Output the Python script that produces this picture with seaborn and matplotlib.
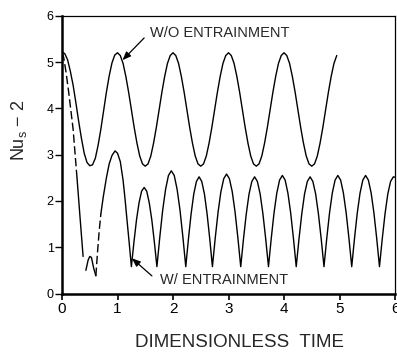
import numpy as np
import pandas as pd
import matplotlib
matplotlib.use("Agg")
import matplotlib.pyplot as plt
import seaborn as sns

# ---- data -------------------------------------------------------------
# Without entrainment: sampled every 0.05 time units from 0 to 4.95
t_wo = np.round(np.arange(0, 100) * 0.05, 2)
nu_wo = [
    5.22, 5.18, 5.05, 4.80, 4.50, 4.12, 3.72, 3.35, 3.03, 2.83,
    2.76, 2.78, 2.92, 3.20, 3.55, 3.95, 4.35, 4.70, 4.98, 5.15,
    5.20, 5.14, 4.97, 4.69, 4.35, 3.97, 3.59, 3.25, 2.97, 2.80,
    2.75, 2.80, 2.97, 3.25, 3.59, 3.97, 4.35, 4.69, 4.97, 5.14,
    5.20, 5.14, 4.97, 4.69, 4.35, 3.97, 3.59, 3.25, 2.97, 2.80,
    2.75, 2.80, 2.97, 3.25, 3.59, 3.97, 4.35, 4.69, 4.97, 5.14,
    5.20, 5.14, 4.97, 4.69, 4.35, 3.97, 3.59, 3.25, 2.97, 2.80,
    2.75, 2.80, 2.97, 3.25, 3.59, 3.97, 4.35, 4.69, 4.97, 5.14,
    5.20, 5.14, 4.97, 4.69, 4.35, 3.97, 3.59, 3.25, 2.97, 2.80,
    2.75, 2.80, 2.97, 3.25, 3.59, 3.97, 4.35, 4.69, 4.97, 5.14,
]

# With entrainment, split into pieces (dashed where the trace is broken)
w_t0 = [0.00, 0.03, 0.07, 0.12, 0.16, 0.20, 0.27]
w_y0 = [5.20, 5.10, 4.80, 4.35, 3.95, 3.55, 2.50]
w_t1 = [0.27, 0.32, 0.38]
w_y1 = [2.50, 1.72, 0.80]
w_t2 = [0.43, 0.47, 0.50, 0.53, 0.57, 0.61]
w_y2 = [0.50, 0.72, 0.80, 0.78, 0.55, 0.38]
w_t3 = [0.61, 0.64, 0.67, 0.70]
w_y3 = [0.38, 0.90, 1.35, 1.72]
w_t4 = [
    0.70, 0.745, 0.80, 0.85, 0.90, 0.955, 1.00, 1.05, 1.10, 1.135, 1.17, 1.21,
    1.25, 1.296, 1.342, 1.388, 1.434, 1.48, 1.526, 1.572, 1.618, 1.664,
    1.71, 1.762, 1.814, 1.866, 1.918, 1.97, 2.022, 2.074, 2.126, 2.178,
    2.23, 2.278, 2.326, 2.374, 2.422, 2.47, 2.518, 2.566, 2.614, 2.662,
    2.71, 2.761, 2.812, 2.863, 2.914, 2.965, 3.016, 3.067, 3.118, 3.169,
    3.22, 3.27, 3.32, 3.37, 3.42, 3.47, 3.52, 3.57, 3.62, 3.67,
    3.72, 3.77, 3.82, 3.87, 3.92, 3.97, 4.02, 4.07, 4.12, 4.17,
    4.22, 4.27, 4.32, 4.37, 4.42, 4.47, 4.52, 4.57, 4.62, 4.67,
    4.72, 4.77, 4.82, 4.87, 4.92, 4.97, 5.02, 5.07, 5.12, 5.17,
    5.22, 5.27, 5.32, 5.37, 5.42, 5.47, 5.52, 5.57, 5.62, 5.67,
    5.72, 5.77, 5.82, 5.87, 5.92, 5.97, 6.00,
]
w_y4 = [
    1.72, 2.10, 2.50, 2.80, 2.98, 3.08, 3.03, 2.85, 2.45, 2.05, 1.60, 1.10,
    0.58, 1.11, 1.59, 1.96, 2.21, 2.29, 2.21, 1.96, 1.59, 1.11,
    0.58, 1.22, 1.80, 2.25, 2.55, 2.65, 2.55, 2.25, 1.80, 1.22,
    0.58, 1.18, 1.72, 2.15, 2.42, 2.52, 2.42, 2.15, 1.72, 1.18,
    0.58, 1.20, 1.76, 2.20, 2.48, 2.58, 2.48, 2.20, 1.76, 1.20,
    0.58, 1.18, 1.72, 2.15, 2.42, 2.52, 2.42, 2.15, 1.72, 1.18,
    0.58, 1.19, 1.74, 2.17, 2.45, 2.55, 2.45, 2.17, 1.74, 1.19,
    0.58, 1.18, 1.72, 2.15, 2.42, 2.52, 2.42, 2.15, 1.72, 1.18,
    0.58, 1.19, 1.74, 2.17, 2.45, 2.55, 2.45, 2.17, 1.74, 1.19,
    0.58, 1.19, 1.74, 2.17, 2.45, 2.55, 2.45, 2.17, 1.74, 1.19,
    0.58, 1.18, 1.72, 2.15, 2.42, 2.52, 2.51,
]

x_ticks = [0, 1, 2, 3, 4, 5, 6]
y_ticks = [0, 1, 2, 3, 4, 5, 6]

# ---- tables -----------------------------------------------------------
df_wo = pd.DataFrame({"time": t_wo, "nu": nu_wo})

pieces = [(w_t0, w_y0, True), (w_t1, w_y1, False), (w_t2, w_y2, False),
          (w_t3, w_y3, True), (w_t4, w_y4, False)]
rows = []
for k, (tt, yy, dashed) in enumerate(pieces):
    for a, b in zip(tt, yy):
        rows.append({"time": a, "nu": b, "piece": k, "dashed": dashed})
df_w = pd.DataFrame(rows)

# ---- figure -----------------------------------------------------------
sns.set_style("ticks")
plt.rcParams["font.family"] = ["Liberation Sans", "DejaVu Sans"]

fig = plt.figure(figsize=(3.97, 3.54), dpi=100)
ax = fig.add_axes([0.1562, 0.1709, 0.8388, 0.7847])

sns.lineplot(data=df_wo, x="time", y="nu", color="black", lw=1.0,
             estimator=None, sort=False, ax=ax, legend=False)
sns.lineplot(data=df_w, x="time", y="nu", units="piece", style="dashed",
             dashes={False: "", True: (6, 2.5)}, color="black", lw=1.0,
             estimator=None, sort=False, ax=ax, legend=False)

ax.set_xlim(0, 6)
ax.set_ylim(0, 6)
ax.set_xticks(x_ticks)
ax.set_yticks(y_ticks)
ax.tick_params(axis="x", direction="out", length=4, width=1.2, pad=2,
               labelsize=11, colors="black")
ax.tick_params(axis="y", direction="out", length=5, width=1.0, pad=1,
               labelsize=9, colors="black")

for side in ("left", "bottom"):
    ax.spines[side].set_linewidth(1.8)
for side in ("top", "right"):
    ax.spines[side].set_linewidth(0.9)
for s in ax.spines.values():
    s.set_color("black")

ax.set_xlabel("DIMENSIONLESS  TIME", fontsize=13.5)
ax.xaxis.set_label_coords(0.532, -0.178)
ax.xaxis.label.set_va("center")
ax.set_ylabel("Nu$_\\mathregular{s}$ − 2", fontsize=13)
ax.yaxis.set_label_coords(-0.13, 0.589)
ax.yaxis.label.set_va("center")

ax.text(1.59, 5.63, "W/O ENTRAINMENT", fontsize=10.5, ha="left", va="center")
ax.annotate("", xy=(1.09, 5.04), xytext=(1.48, 5.52),
            arrowprops=dict(arrowstyle="-|>,head_length=0.5,head_width=0.2",
                            color="black", lw=0.9, shrinkA=0, shrinkB=0))

ax.text(1.77, 0.29, "W/ ENTRAINMENT", fontsize=10.5, ha="left", va="center")
ax.annotate("", xy=(1.26, 0.76), xytext=(1.62, 0.38),
            arrowprops=dict(arrowstyle="-|>,head_length=0.5,head_width=0.2",
                            color="black", lw=0.9, shrinkA=0, shrinkB=0))

fig.savefig("out.png", dpi=100)
